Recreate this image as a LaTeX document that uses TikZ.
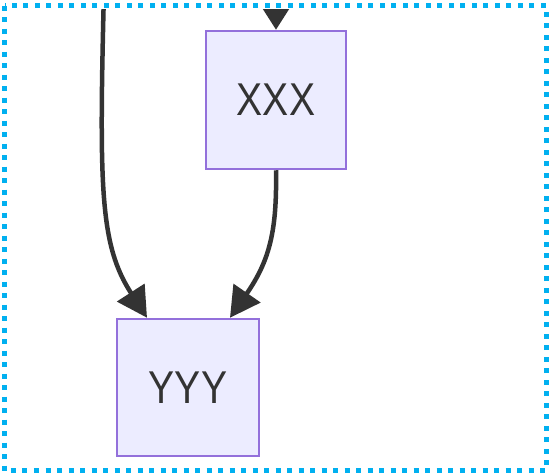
\documentclass[tikz,border=0pt]{standalone}
\usepackage{fontspec}
\newfontfamily\lbl[FakeStretch=0.85]{Liberation Sans}
\usetikzlibrary{arrows.meta}
\definecolor{boxfill}{HTML}{ECECFF}
\definecolor{boxline}{HTML}{9370DB}
\definecolor{edge}{HTML}{333333}
\definecolor{cluster}{HTML}{00B0F0}
\tikzset{
  flowbox/.style={draw=boxline, fill=boxfill, line width=2.5pt, inner sep=0pt,
    font=\lbl\fontsize{46}{54}\selectfont, text=edge},
  link/.style={draw=edge, line width=4.5pt, -{Triangle[length=30pt,width=32pt]}},
  toplink/.style={draw=edge, line width=4.5pt, -{Triangle[length=30pt,width=37pt]}}
}
\begin{document}
\begin{tikzpicture}[x=1pt,y=-1pt]
\useasboundingbox (0,0) rectangle (550,474);
\node[flowbox, minimum width=140pt, minimum height=138pt] (xxx) at (276,100) {XXX};
\node[flowbox, minimum width=142pt, minimum height=137pt] (yyy) at (188,387.5) {YYY};
\coordinate (s1) at (104,-10);
\coordinate (t) at (276,-20);
\begin{scope}
\clip (0,9) rectangle (550,474);
\draw[toplink] (t) -- (xxx.north);
\draw[link] (s1) .. controls (99,190) and (100,245) .. ([xshift=-41pt]yyy.north);
\draw[link] (xxx.south) .. controls (277,230) and (270,260) .. ([xshift=42pt]yyy.north);
\end{scope}
\draw[cluster, line width=5pt, dash pattern=on 5pt off 6.5pt] (4.5,5.5) rectangle (546,470.5);
\end{tikzpicture}
\end{document}
